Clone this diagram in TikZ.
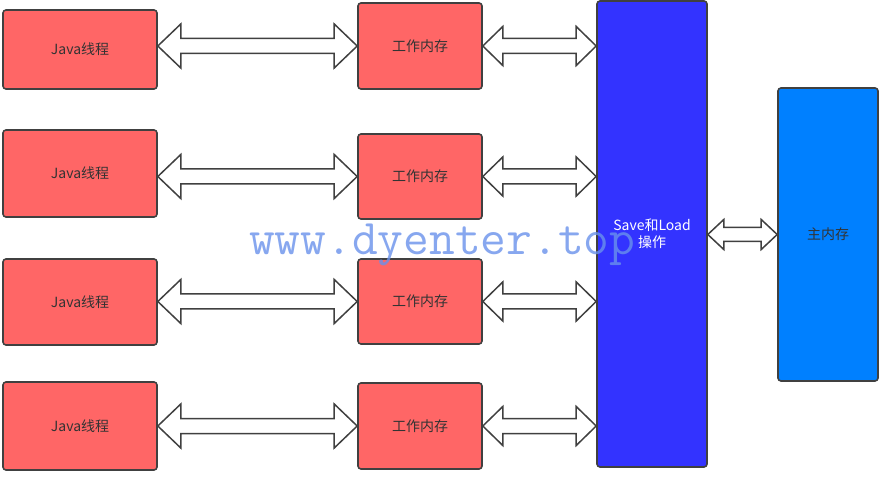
\documentclass[tikz,border=0pt]{standalone}
\usepackage{fontspec}
\usepackage{tikz}
\usetikzlibrary{arrows.meta, positioning, calc}
\newfontfamily\cjk{Noto Sans CJK SC}

\definecolor{linegray}{RGB}{64,64,64}
\definecolor{txtgray}{RGB}{51,51,51}
\definecolor{boxred}{RGB}{255,102,102}
\definecolor{boxblue}{RGB}{51,51,255}
\definecolor{boxsky}{RGB}{0,128,255}
\definecolor{markblue}{RGB}{105,145,235}

\tikzset{
  box/.style={draw=linegray, line width=1.6pt, rounded corners=3pt, inner sep=0pt,
    font=\cjk\fontsize{14}{17}\selectfont, text=txtgray},
  thread/.style={box, fill=boxred, minimum width=154pt},
  work/.style={box, fill=boxred, minimum width=124pt},
  fat/.style={draw=linegray, fill=white, line width=1.5pt, line join=miter}
}

% #1 from, #2 to (y taken from #2), #3 head length, #4 head half width, #5 shaft half width
\newcommand\dblarrow[5]{%
  \draw[fat] let \p1=(#1), \p2=(#2) in
  (\x1,\y2) -- (\x1+#3,\y2+#4) -- (\x1+#3,\y2+#5) -- (\x2-#3,\y2+#5)
  -- (\x2-#3,\y2+#4) -- (\x2,\y2) -- (\x2-#3,\y2-#4) -- (\x2-#3,\y2-#5)
  -- (\x1+#3,\y2-#5) -- (\x1+#3,\y2-#4) -- cycle;}

\begin{document}
\begin{tikzpicture}[x=1pt, y=-1pt]
\useasboundingbox (0,0) rectangle (881,478);

\node[thread, minimum height=79pt] (j1) at (80,49.5) {Java线程};
\node[thread, minimum height=87pt] (j2) at (80,173.5) {Java线程};
\node[thread, minimum height=86pt] (j3) at (80,302) {Java线程};
\node[thread, minimum height=88pt] (j4) at (80,426) {Java线程};

\node[work, minimum height=86pt] (w1) at (420,46) {工作内存};
\node[work, minimum height=85pt] (w2) at (420,176.5) {工作内存};
\node[work, minimum height=85pt] (w3) at (420,301.5) {工作内存};
\node[work, minimum height=86pt] (w4) at (420,426) {工作内存};

\node[box, fill=boxblue, text=white, minimum width=110pt, minimum height=466pt, align=center]
  (sl) at (652,234) {Save和Load\\操作};
\node[box, fill=boxsky, minimum width=100pt, minimum height=293pt] (mm) at (828,234.5) {主内存};

\dblarrow{j1.east}{w1.west}{23}{22}{7.5}
\dblarrow{j2.east}{w2.west}{23}{22}{7.5}
\dblarrow{j3.east}{w3.west}{23}{22}{7.5}
\dblarrow{j4.east}{w4.west}{23}{22}{7.5}

\dblarrow{w1.east}{w1.east -| sl.west}{20}{19.5}{7.5}
\dblarrow{w2.east}{w2.east -| sl.west}{20}{19.5}{7.5}
\dblarrow{w3.east}{w3.east -| sl.west}{20}{19.5}{7.5}
\dblarrow{w4.east}{w4.east -| sl.west}{20}{19.5}{7.5}

\dblarrow{sl.east |- mm.west}{mm.west}{16}{15}{7}

\node[anchor=base west, inner sep=0pt, text=markblue, opacity=0.8,
  font=\ttfamily\fontsize{50}{50}\selectfont] (mark) at (249,255) {www.dyenter.top};
\end{tikzpicture}
\end{document}
